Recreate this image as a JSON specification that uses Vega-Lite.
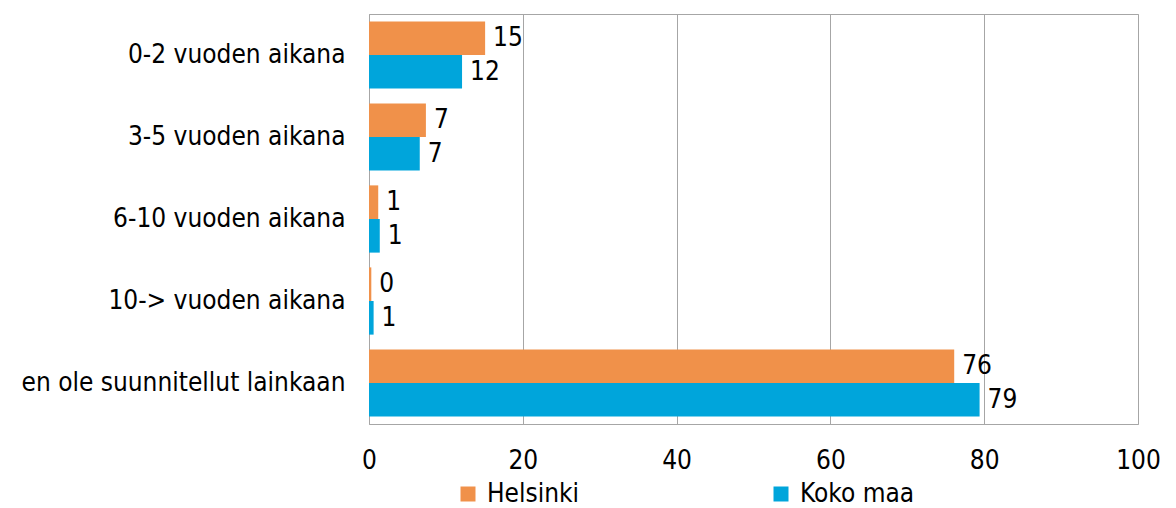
{
  "$schema": "https://vega.github.io/schema/vega-lite/v6.json",
  "width": 769,
  "height": 410,
  "autosize": {"type": "none"},
  "padding": {"left": 369, "top": 14, "right": 38, "bottom": 84},
  "background": "white",
  "config": {
    "font": "DejaVu Sans Condensed",
    "view": {"stroke": "#a6a6a6", "strokeWidth": 1},
    "axis": {"labelFont": "DejaVu Sans Condensed", "labelColor": "#000000", "labelFontSize": 26, "labelLimit": 500, "ticks": false, "domain": false, "title": null}
  },
  "data": {
    "values": [
      {"kategoria": "0-2 vuoden aikana", "sarja": "Helsinki", "arvo": 15.1},
      {"kategoria": "0-2 vuoden aikana", "sarja": "Koko maa", "arvo": 12.1},
      {"kategoria": "3-5 vuoden aikana", "sarja": "Helsinki", "arvo": 7.4},
      {"kategoria": "3-5 vuoden aikana", "sarja": "Koko maa", "arvo": 6.6},
      {"kategoria": "6-10 vuoden aikana", "sarja": "Helsinki", "arvo": 1.2},
      {"kategoria": "6-10 vuoden aikana", "sarja": "Koko maa", "arvo": 1.4},
      {"kategoria": "10-> vuoden aikana", "sarja": "Helsinki", "arvo": 0.3},
      {"kategoria": "10-> vuoden aikana", "sarja": "Koko maa", "arvo": 0.6},
      {"kategoria": "en ole suunnitellut lainkaan", "sarja": "Helsinki", "arvo": 76.1},
      {"kategoria": "en ole suunnitellut lainkaan", "sarja": "Koko maa", "arvo": 79.4}
    ]
  },
  "encoding": {
    "y": {
      "field": "kategoria",
      "type": "nominal",
      "sort": null,
      "scale": {"paddingInner": 0.18, "paddingOuter": 0.09},
      "axis": {"labelPadding": 24, "grid": false, "domain": true, "domainColor": "#a6a6a6"}
    },
    "yOffset": {"field": "sarja", "type": "nominal", "sort": ["Helsinki", "Koko maa"]},
    "x": {
      "field": "arvo",
      "type": "quantitative",
      "scale": {"domain": [0, 100], "nice": false},
      "axis": {"values": [0, 20, 40, 60, 80, 100], "grid": true, "gridColor": "#a6a6a6", "gridWidth": 1, "labelPadding": 23, "labelFlush": false}
    }
  },
  "layer": [
    {
      "mark": {"type": "bar"},
      "encoding": {
        "color": {
          "field": "sarja",
          "type": "nominal",
          "scale": {"domain": ["Helsinki", "Koko maa"], "range": ["#f0914a", "#00a5db"]},
          "legend": {
            "title": null,
            "orient": "none",
            "legendX": 86,
            "legendY": 467,
            "direction": "horizontal",
            "columns": 2,
            "columnPadding": 188,
            "symbolType": "square",
            "symbolSize": 225,
            "symbolStrokeWidth": 0,
            "labelFont": "DejaVu Sans Condensed",
            "labelFontSize": 26,
            "labelColor": "#000000",
            "labelOffset": 6
          }
        }
      }
    },
    {
      "mark": {"type": "text", "align": "left", "baseline": "middle", "dx": 8, "fontSize": 26, "color": "#000000"},
      "encoding": {
        "text": {"field": "arvo", "type": "quantitative", "format": ".0f"}
      }
    }
  ]
}
